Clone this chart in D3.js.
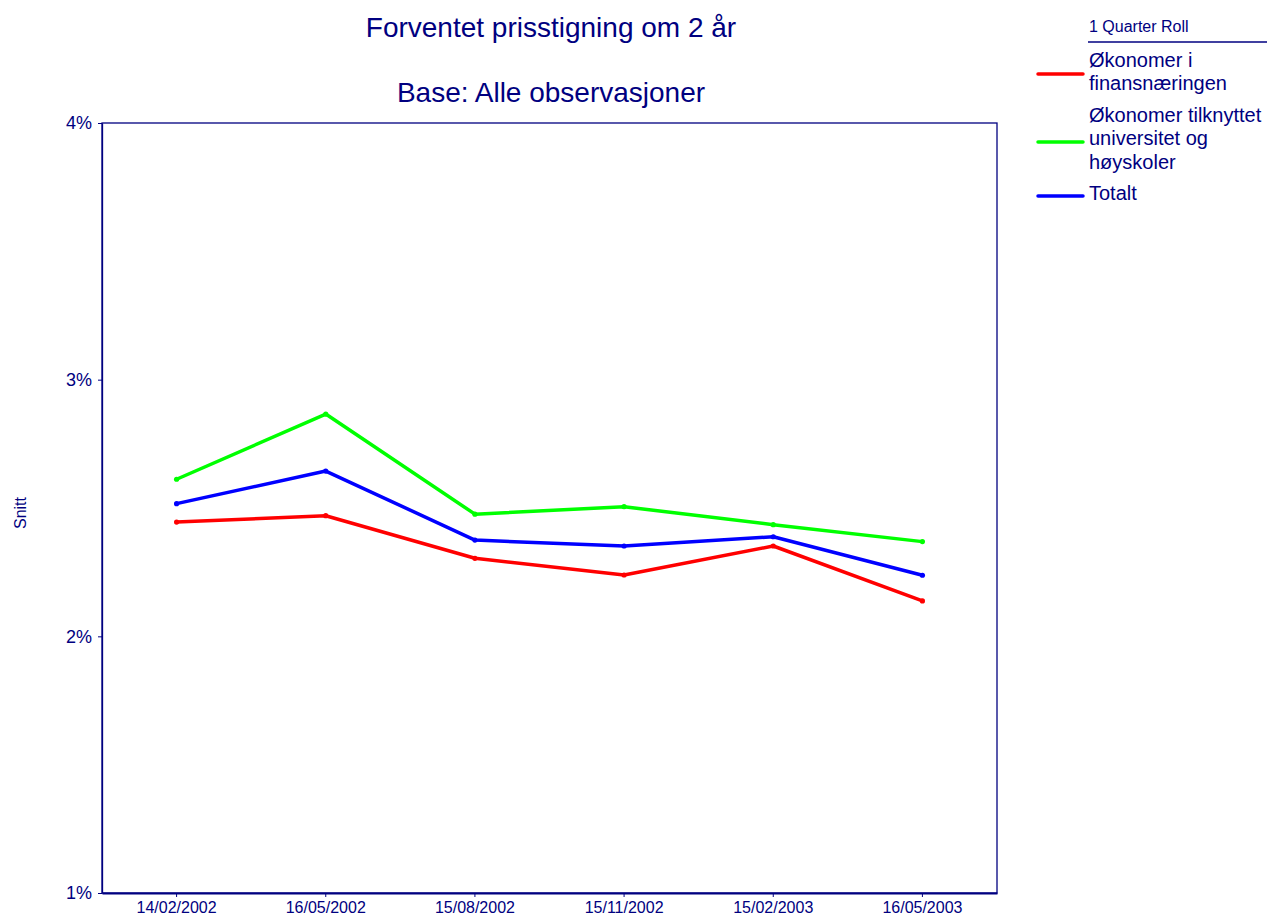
<!DOCTYPE html>
<html><head><meta charset="utf-8">
<script src="https://cdn.jsdelivr.net/npm/d3@7"></script>
<style>body{margin:0;background:#fff}svg{display:block}text{font-family:"Liberation Sans",Arial,sans-serif;fill:#000080}</style>
</head><body><svg id="c" width="1267" height="916"></svg>
<script>
const categories = ["14/02/2002","16/05/2002","15/08/2002","15/11/2002","15/02/2003","16/05/2003"];
const finans = [2.445, 2.470, 2.304, 2.239, 2.352, 2.138];
const universitet = [2.612, 2.866, 2.476, 2.505, 2.435, 2.369];
const totalt = [2.517, 2.644, 2.375, 2.352, 2.388, 2.238];
const yTicks = [1, 2, 3, 4];
const seriesNames = [["Økonomer i","finansnæringen"],["Økonomer tilknyttet","universitet og","høyskoler"],["Totalt"]];
const colors = ["#ff0000","#00ff00","#0000ff"];
const navy = "#000080";

const svg = d3.select("#c");
const L = 102, R = 997, T = 123, B = 893;
const x = d3.scaleBand().domain(categories).range([L, R]);
const y = d3.scaleLinear().domain([1, 4]).range([B, T]);

// frame
svg.append("rect").attr("x", L).attr("y", T).attr("width", R - L).attr("height", B - T)
  .attr("fill", "none").attr("stroke", navy).attr("stroke-width", 1.3);

const yAx = svg.append("g").attr("transform", `translate(${L},0)`)
  .call(d3.axisLeft(y).tickValues(yTicks).tickFormat(d => d + "%").tickSize(4).tickSizeOuter(0).tickPadding(6));
yAx.select(".domain").attr("stroke", navy).attr("stroke-width", 1.3);
yAx.selectAll(".tick line").attr("stroke", navy);
yAx.selectAll("text").style("font-size", "18px").attr("fill", navy);

const xAx = svg.append("g").attr("transform", `translate(0,${B})`)
  .call(d3.axisBottom(x).tickSize(4).tickSizeOuter(0).tickPadding(5));
xAx.select(".domain").attr("stroke", navy).attr("stroke-width", 2);
xAx.selectAll(".tick line").attr("stroke", navy);
xAx.selectAll("text").style("font-size", "16px").attr("fill", navy);

const xc = d => x(d) + x.bandwidth() / 2;
const data = [finans, universitet, totalt];
const line = d3.line().x((d, i) => xc(categories[i])).y(d => y(d));
data.forEach((s, k) => {
  svg.append("path").datum(s).attr("d", line).attr("fill", "none")
    .attr("stroke", colors[k]).attr("stroke-width", 3.5).attr("stroke-linejoin", "round");
  svg.selectAll(null).data(s).enter().append("circle")
    .attr("cx", (d, i) => xc(categories[i])).attr("cy", d => y(d)).attr("r", 2.6)
    .attr("fill", colors[k]);
});

// titles
svg.append("text").attr("x", 551).attr("y", 37).attr("text-anchor", "middle")
  .style("font-size", "28px").text("Forventet prisstigning om 2 år");
svg.append("text").attr("x", 551).attr("y", 102).attr("text-anchor", "middle")
  .style("font-size", "28px").text("Base: Alle observasjoner");
svg.append("text").attr("transform", "translate(26,513) rotate(-90)").attr("text-anchor", "middle")
  .style("font-size", "16px").text("Snitt");

// legend
svg.append("text").attr("x", 1089).attr("y", 32).style("font-size", "16px").text("1 Quarter Roll");
svg.append("line").attr("x1", 1088).attr("x2", 1267).attr("y1", 42).attr("y2", 42)
  .attr("stroke", navy).attr("stroke-width", 1.3);
const legY = [74, 142, 196];
const textTop = [67, 122, 200];
seriesNames.forEach((lines, k) => {
  svg.append("line").attr("x1", 1038).attr("x2", 1083).attr("y1", legY[k]).attr("y2", legY[k])
    .attr("stroke", colors[k]).attr("stroke-width", 3.5).attr("stroke-linecap", "round");
  lines.forEach((t, j) => {
    svg.append("text").attr("x", 1089).attr("y", textTop[k] + j * 23.3).style("font-size", "20px").text(t);
  });
});
</script></body></html>
